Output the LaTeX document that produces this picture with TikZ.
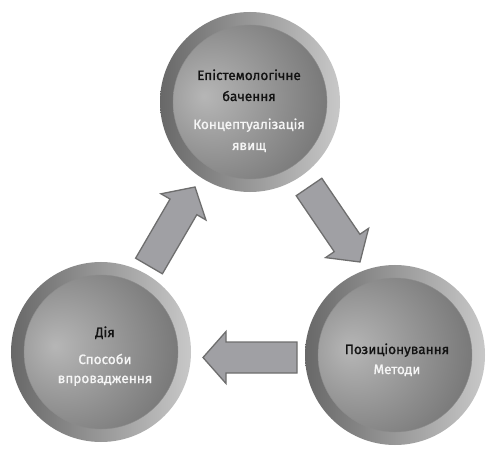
\documentclass[tikz,border=0pt]{standalone}
\usepackage{fontspec}
\setmainfont{Fira Sans}[FakeBold=1.2]
\usetikzlibrary{calc}
\definecolor{ringL}{HTML}{686868}
\definecolor{ringR}{HTML}{C8C8C8}
\definecolor{diskC}{HTML}{B6B6B6}
\definecolor{diskM}{HTML}{8E8E8E}
\definecolor{diskE}{HTML}{5C5C5C}
\definecolor{arrowF}{HTML}{A0A0A4}
\definecolor{arrowD}{HTML}{6E6E6E}
\definecolor{txtDark}{HTML}{121212}
\definecolor{txtLight}{HTML}{F6F6F6}
\pgfdeclareradialshading{diskshade}{\pgfpoint{-15bp}{2bp}}{color(0bp)=(diskC); color(22bp)=(diskM); color(50bp)=(diskE); color(80bp)=(diskE)}
\tikzset{
  ring/.style={circle, inner sep=0pt, minimum size=180bp, left color=ringL, right color=ringR},
  disk/.style={circle, inner sep=0pt, minimum size=154bp, shading=diskshade, draw=black!45, line width=0.4bp},
  dark/.style={text=txtDark, font=\fontsize{13.6}{16}\selectfont, anchor=base, inner sep=0pt},
  light/.style={text=txtLight, font=\fontsize{13.6}{16}\selectfont, anchor=base, inner sep=0pt},
  arrowbox/.style={fill=arrowF, draw=arrowD, line width=1.3bp, line join=miter}
}
\newcommand\myblockarrow[2]{%
  \coordinate (#1#2h) at ($(#2)!23bp!(#1)$);
  \draw[arrowbox] ($(#1)!15.5bp!90:(#2)$) -- ($(#1#2h)!15.5bp!90:(#2)$) -- ($(#1#2h)!26bp!90:(#2)$) -- (#2)
    -- ($(#1#2h)!26bp!-90:(#2)$) -- ($(#1#2h)!15.5bp!-90:(#2)$) -- ($(#1)!15.5bp!-90:(#2)$) -- cycle;
}
\begin{document}
\begin{tikzpicture}[x=1bp,y=-1bp]
\useasboundingbox (0,0) rectangle (486,449);
% circles
\node[ring] (top) at (250,102) {};
\node[disk] (topd) at (top) {};
\node[ring] (left) at (101,352) {};
\node[disk] (leftd) at (left) {};
\node[ring] (right) at (395,355) {};
\node[disk] (rightd) at (right) {};
% texts
\node[dark] (t1) at (249,80) {Епістемологічне};
\node[dark] (t2) at (249,101) {бачення};
\node[light] (t3) at (249,129) {Концептуалізація};
\node[light] (t4) at (249,150) {явищ};
\node[dark] (l1) at (105,337) {Дія};
\node[light] (l2) at (105,364) {Способи};
\node[light] (l3) at (105,383) {впровадження};
\node[dark] (r1) at (397,354) {Позиціонування};
\node[light] (r2) at (397,374) {Методи};
% arrows
\coordinate (a1s) at (149,266);
\coordinate (a1t) at (195,187);
\coordinate (a2s) at (309,187);
\coordinate (a2t) at (360,262);
\coordinate (a3s) at (297,357.5);
\coordinate (a3t) at (203,357.5);
\myblockarrow{a1s}{a1t}
\myblockarrow{a2s}{a2t}
\myblockarrow{a3s}{a3t}
\end{tikzpicture}
\end{document}
